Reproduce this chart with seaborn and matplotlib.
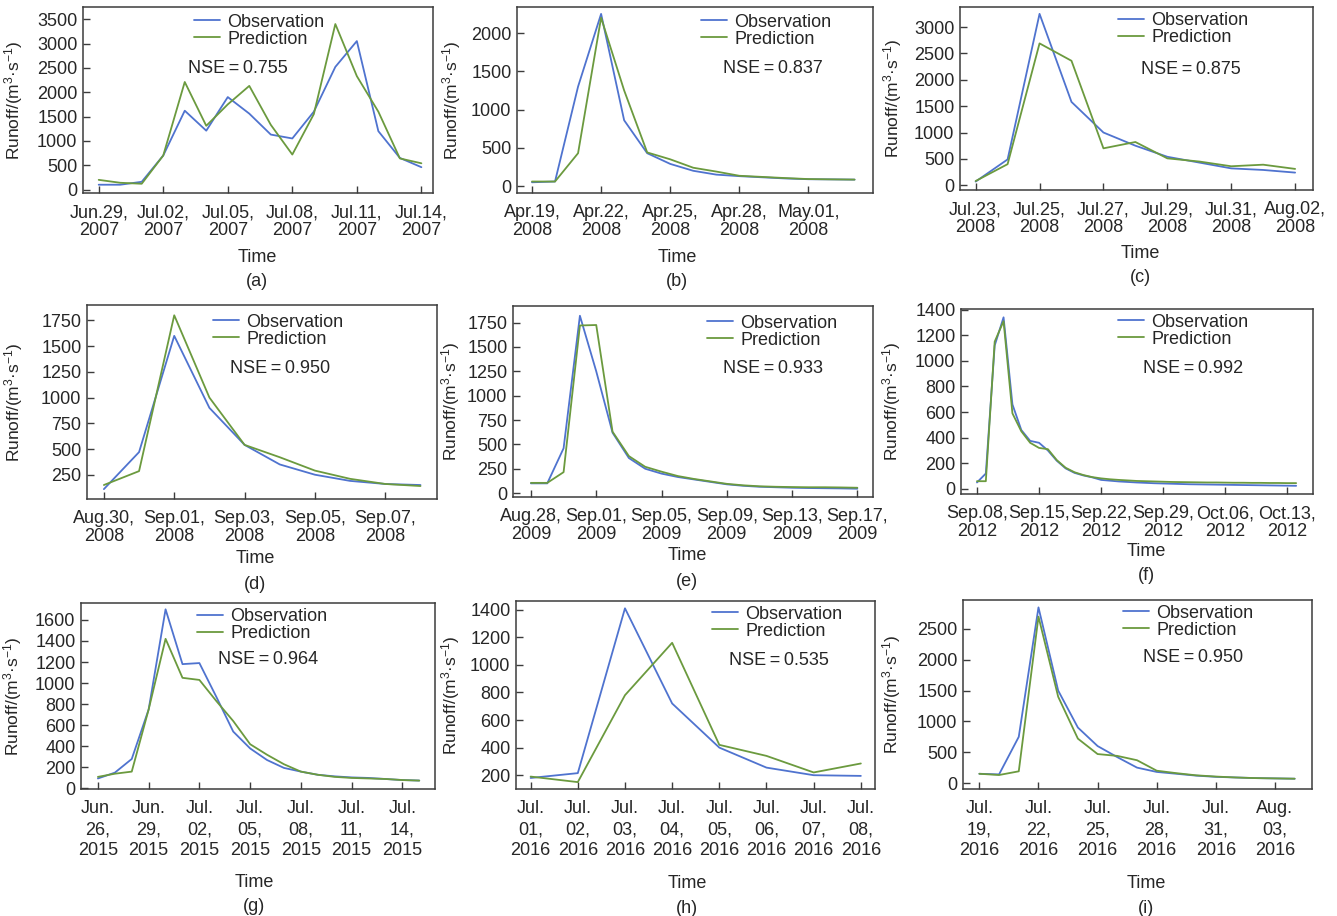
"""
Runoff observation vs prediction for nine flood events (a)-(i).
"""
import pandas as pd
from matplotlib import pyplot as plt
import seaborn as sns

# ---- data (daily runoff, m3/s) ----
a_start = "2007-06-29"
a_obs = [100, 100, 160, 700, 1620, 1210, 1900, 1560, 1130, 1050, 1600, 2520, 3050, 1200, 650, 460]
a_pred = [200, 140, 120, 700, 2210, 1310, 1750, 2130, 1330, 720, 1550, 3400, 2330, 1600, 640, 540]

b_start = "2008-04-19"
b_obs = [50, 60, 1300, 2250, 860, 430, 290, 200, 150, 130, 115, 100, 90, 88, 85]
b_pred = [60, 60, 430, 2200, 1250, 440, 350, 240, 190, 135, 120, 105, 92, 88, 85]

c_start = "2008-07-23"
c_obs = [70, 490, 3250, 1580, 1000, 750, 540, 430, 320, 290, 240]
c_pred = [80, 400, 2690, 2360, 700, 820, 510, 450, 360, 390, 310]

d_start = "2008-08-30"
d_obs = [110, 470, 1600, 900, 540, 350, 250, 190, 160, 150]
d_pred = [150, 285, 1800, 1000, 540, 420, 290, 210, 160, 140]

e_start = "2009-08-28"
e_obs = [100, 100, 460, 1820, 1250, 620, 360, 250, 200, 165, 140, 115, 90, 75, 65, 60, 55, 52, 50, 48, 45]
e_pred = [105, 105, 215, 1720, 1725, 630, 380, 270, 220, 175, 145, 120, 95, 80, 70, 65, 62, 60, 60, 58, 55]

f_start = "2012-09-08"
f_obs = [50, 120, 1120, 1340, 660, 460, 375, 360, 300, 220, 160, 125, 105, 90, 70,
         64, 58, 54, 50, 47, 44, 42, 40,
         38, 36, 35, 34, 33, 32, 31, 30, 29, 28, 27, 26, 25, 24]
f_pred = [60, 60, 1150, 1310, 590, 450, 360, 320, 310, 225, 165, 130, 108, 92, 82,
          75, 70, 66, 62, 60, 58, 56, 54,
          53, 52, 51, 50, 50, 49, 48, 48, 47, 47, 46, 46, 45, 45]

g_start = "2015-06-26"
g_obs = [95, 150, 280, 750, 1700, 1180, 1190, 870, 540, 380, 270, 195, 160, 130, 115, 105, 100, 90, 80, 75]
g_pred = [110, 140, 160, 750, 1420, 1050, 1030, 830, 640, 420, 320, 230, 160, 130, 110, 100, 95, 90, 80, 75]

h_start = "2016-07-01"
h_obs = [180, 215, 1410, 720, 400, 255, 200, 195]
h_pred = [190, 150, 780, 1160, 420, 340, 220, 285]

i_start = "2016-07-19"
i_obs = [150, 140, 750, 2850, 1500, 900, 600, 420, 250, 180, 150, 120, 100, 90, 80, 75, 70]
i_pred = [150, 130, 190, 2700, 1400, 720, 470, 440, 370, 200, 160, 125, 105, 90, 80, 75, 70]

nse_values = ["0.755", "0.837", "0.875", "0.950", "0.933", "0.992", "0.964", "0.535", "0.950"]
panel_letters = ["(a)", "(b)", "(c)", "(d)", "(e)", "(f)", "(g)", "(h)", "(i)"]
tick_steps = [3, 3, 2, 2, 4, 7, 3, 1, 3]
n_ticks = [6, 5, 6, 5, 6, 6, 7, 8, 6]
yticks_list = [range(0, 3501, 500), range(0, 2001, 500), range(0, 3001, 500),
               range(250, 1751, 250), range(0, 1751, 250), range(0, 1401, 200),
               range(0, 1601, 200), range(200, 1401, 200), range(0, 2501, 500)]

events = [(a_start, a_obs, a_pred), (b_start, b_obs, b_pred), (c_start, c_obs, c_pred),
          (d_start, d_obs, d_pred), (e_start, e_obs, e_pred), (f_start, f_obs, f_pred),
          (g_start, g_obs, g_pred), (h_start, h_obs, h_pred), (i_start, i_obs, i_pred)]

# ---- layout (pixel boxes: left, top, right, bottom) ----
W, H = 1337, 916
boxes = [(83, 7, 433, 193), (517, 7, 873, 193), (960, 7, 1313, 190),
         (87, 305, 437, 499), (513, 306, 873, 497), (961, 309, 1313, 494),
         (81, 603, 435, 789), (516, 601, 875, 789), (963, 600, 1312, 789)]
ylims = [(-70, 3750), (-90, 2340), (-90, 3380), (14, 1900), (-40, 1920),
         (-40, 1405), (-5, 1760), (100, 1463), (-97, 2970)]
xpads = [(0.73, 0.54), (0.65, 0.8), (0.49, 0.56), (0.48, 0.47), (1.1, 0.96),
         (1.8, 1.9), (1.0, 0.93), (0.31, 0.3), (0.83, 0.88)]
leg_pos = [(0.317, 0.965), (0.517, 0.965), (0.448, 0.972), (0.36, 0.955), (0.539, 0.955),
           (0.446, 0.975), (0.328, 0.972), (0.546, 0.975), (0.458, 0.975)]
nse_pos = [(0.30, 0.667), (0.579, 0.667), (0.513, 0.661), (0.409, 0.675), (0.583, 0.675),
           (0.517, 0.68), (0.387, 0.694), (0.593, 0.686), (0.516, 0.694)]
ylab_off = [-58, -54, -56, -62, -51, -58, -57, -54, -60]
xlab_x = [0.497, 0.45, 0.51, 0.48, 0.483, 0.526, 0.49, 0.476, 0.524]

sns.set_theme(style="ticks")
plt.rcParams['font.family'] = ['Liberation Sans', 'DejaVu Sans']
plt.rcParams['mathtext.fontset'] = 'custom'
plt.rcParams['mathtext.rm'] = 'Liberation Sans'
plt.rcParams['mathtext.it'] = 'Liberation Sans:italic'
plt.rcParams['mathtext.default'] = 'rm'

colors = {"Observation": "#4f73cf", "Prediction": "#6b9a3e"}
txt_col = "#262626"

fig = plt.figure(figsize=(W / 100, H / 100), dpi=100)

for k, (start, obs, pred) in enumerate(events):
    l, t, r, b = boxes[k]
    ax = fig.add_axes([l / W, 1 - b / H, (r - l) / W, (b - t) / H])
    dates = pd.date_range(start, periods=len(obs), freq="D")
    df = pd.DataFrame({
        "Time": list(dates) * 2,
        "Runoff": obs + pred,
        "series": ["Observation"] * len(obs) + ["Prediction"] * len(pred),
    })
    sns.lineplot(data=df, x="Time", y="Runoff", hue="series", palette=colors,
                 linewidth=1.3, ax=ax)

    row3 = k >= 6
    ticks = pd.date_range(start, periods=n_ticks[k], freq=f"{tick_steps[k]}D")
    ax.set_xticks(ticks)
    if row3:
        labels = [f"{d.strftime('%b')}.\n{d.strftime('%d')},\n{d.year}" for d in ticks]
    else:
        labels = [f"{d.strftime('%b')}.{d.strftime('%d')},\n{d.year}" for d in ticks]
    ax.set_xticklabels(labels, linespacing=1.3 if row3 else 1.1)
    ax.set_xlim(dates[0] - pd.Timedelta(days=xpads[k][0]),
                dates[-1] + pd.Timedelta(days=xpads[k][1]))
    ax.set_yticks(list(yticks_list[k]))
    ax.set_ylim(*ylims[k])

    ax.tick_params(direction="in", length=5, width=1, colors="#3c3c3c",
                   labelcolor=txt_col, labelsize=13, pad=4)
    ax.tick_params(axis="x", pad=8)
    for s in ax.spines.values():
        s.set_visible(True)
        s.set_color("#3c3c3c")
        s.set_linewidth(1.1)

    ax.set_ylabel(r"Runoff/(m$^{3}$·s$^{-1}$)", fontsize=12.5, color=txt_col)
    ax.yaxis.set_label_coords(ylab_off[k] / (r - l), 0.5)
    ax.set_xlabel("Time", fontsize=13, color=txt_col)
    xl_y = -0.457 if row3 else (-0.30 if k < 3 else -0.263)
    ax.xaxis.set_label_coords(xlab_x[k], xl_y)

    letter_y = -0.634 if row3 else (-0.478 if k < 3 else -0.443)
    ax.text(xlab_x[k], letter_y, panel_letters[k], transform=ax.transAxes,
            ha="center", va="center", fontsize=13, color=txt_col)

    handles, labs = ax.get_legend_handles_labels()
    ax.legend(handles, labs, loc="upper left", bbox_to_anchor=leg_pos[k],
              frameon=False, fontsize=13, borderpad=0, borderaxespad=0,
              handlelength=1.45, handletextpad=0.4, labelspacing=0.0)
    ax.text(nse_pos[k][0], nse_pos[k][1], f"NSE\u2009=\u2009{nse_values[k]}",
            transform=ax.transAxes, ha="left", va="center", fontsize=13, color=txt_col)

fig.savefig("out.png", dpi=100)
